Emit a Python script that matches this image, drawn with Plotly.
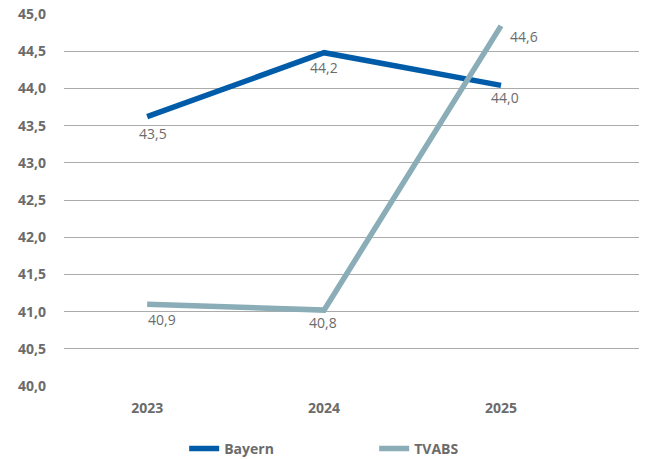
import plotly.graph_objects as go

years = ["2023", "2024", "2025"]
bayern = [43.62, 44.48, 44.04]
tvabs = [41.10, 41.02, 44.84]
bayern_labels = ["43,5", "44,2", "44,0"]
tvabs_labels = ["40,9", "40,8", "44,6"]
y_ticks = [40.0, 40.5, 41.0, 41.5, 42.0, 42.5, 43.0, 43.5, 44.0, 44.5, 45.0]
y_tick_text = [f"{v:.1f}".replace(".", ",") for v in y_ticks]

xs = list(range(len(years)))
FONT = "Open Sans"
GRAY = "#6b6b6b"

fig = go.Figure()
fig.add_trace(go.Scatter(x=xs, y=bayern, mode="lines", name="Bayern",
                         line=dict(color="#005ca9", width=5.5)))
fig.add_trace(go.Scatter(x=xs, y=tvabs, mode="lines", name="TVABS",
                         line=dict(color="#8aadb8", width=5.5)))

annotations = []
b_off = [(6, -17), (0, -15), (4, -12)]
t_off = [(15, -15), (-1, -12), (23, -11)]
for i, (x, y, t) in enumerate(zip(xs, bayern, bayern_labels)):
    annotations.append(dict(x=x, y=y, text=t, showarrow=False, xshift=b_off[i][0], yshift=b_off[i][1],
                            font=dict(family=FONT, size=14, color=GRAY)))
for i, (x, y, t) in enumerate(zip(xs, tvabs, tvabs_labels)):
    annotations.append(dict(x=x, y=y, text=t, showarrow=False, xshift=t_off[i][0], yshift=t_off[i][1],
                            font=dict(family=FONT, size=14, color=GRAY)))

fig.update_layout(
    width=645, height=459,
    margin=dict(l=64, r=6, t=14, b=73, autoexpand=False),
    paper_bgcolor="white", plot_bgcolor="white",
    font=dict(family=FONT, size=14, color=GRAY),
    showlegend=True,
    legend=dict(orientation="h", x=0.209, y=0.022, xanchor="left", yanchor="middle",
                xref="paper", yref="container",
                font=dict(family=FONT, size=14, color=GRAY, weight="bold"),
                entrywidth=145, entrywidthmode="pixels"),
    annotations=annotations,
)
fig.update_xaxes(range=[-0.47, 2.78], tickvals=xs, ticktext=[f"<b>{y}</b>" for y in years],
                 showgrid=False, zeroline=False, showline=False, ticks="", automargin=False,
                 tickfont=dict(family=FONT, size=14, color=GRAY), ticklabelstandoff=12)
fig.update_yaxes(range=[40.0, 45.0], tickvals=y_ticks, ticktext=[f"<b>{t}</b>" for t in y_tick_text],
                 showgrid=True, gridcolor="#ababab", gridwidth=1, zeroline=False, showline=False,
                 ticks="", automargin=False,
                 tickfont=dict(family=FONT, size=14, color=GRAY), ticklabelstandoff=17)

fig.write_html("out.html", config={"displayModeBar": False},
               post_script="document.body.style.margin='0';document.body.style.overflow='hidden';")
